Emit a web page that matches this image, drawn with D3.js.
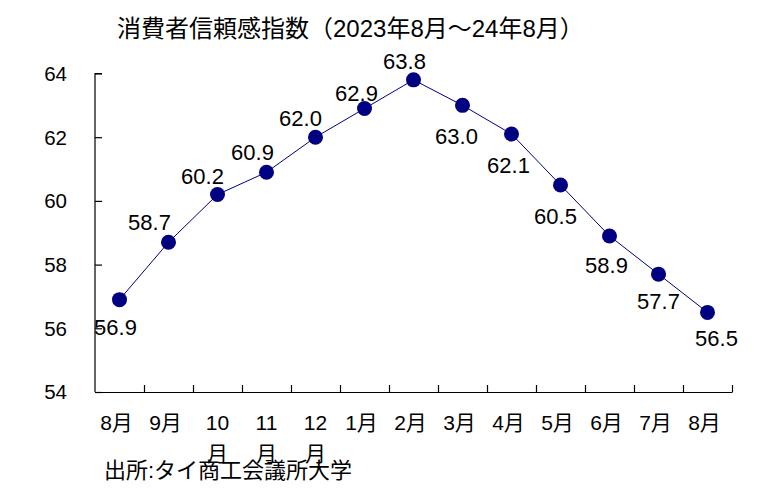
<!DOCTYPE html>
<html>
<head>
<meta charset="utf-8">
<script src="https://cdn.jsdelivr.net/npm/d3@7"></script>
<style>
  body { margin: 0; background: #fff; }
  text { font-family: "Liberation Sans", "Noto Sans CJK JP", sans-serif; fill: #000; }
</style>
</head>
<body>
<div id="chart"></div>
<script>
// data
const months = ["8月","9月","10月","11月","12月","1月","2月","3月","4月","5月","6月","7月","8月"]
const values = [56.9,58.7,60.2,60.9,62.0,62.9,63.8,63.0,62.1,60.5,58.9,57.7,56.5]
const yTicks = [54,56,58,60,62,64]
const title = "消費者信頼感指数（2023年8月～24年8月）"
const source = "出所:タイ商工会議所大学"

// where each data label sits relative to its dot [dx, dy]
const labelNudge = [[-4,35],[-19,-12],[-15,-11],[-14,-12],[-15,-11],[-8,-8],[-9,-11],
                    [-6,39],[-3,39],[-5,39],[-3,37],[0,35],[9,34]]

const width = 777, height = 503

const svg = d3.select("#chart")
  .append("svg")
    .attr("width", width)
    .attr("height", height)

const x = d3.scaleBand()
  .domain(d3.range(months.length))
  .range([95, 732])

const y = d3.scaleLinear()
  .domain([54, 64])
  .range([392, 73.5])

// title
svg.append("text")
  .attr("x", 117)
  .attr("y", 37)
  .style("font-size", "24px")
  .text(title)

// y axis, ticks point inward
const yAxis = svg.append("g")
  .attr("transform", "translate(95,0)")
  .call(d3.axisRight(y).tickValues(yTicks).tickSize(7).tickFormat(""))
yAxis.select(".domain").attr("d", `M7,${y(64)}H0V${y(54)}`)
yAxis.selectAll("line, path").attr("stroke", "#000").attr("stroke-width", 1.2)

svg.append("g")
  .selectAll("text")
  .data(yTicks)
  .join("text")
    .attr("x", 67)
    .attr("y", d => y(d))
    .attr("dy", "0.36em")
    .attr("text-anchor", "end")
    .style("font-size", "20.5px")
    .text(d => d)

// x axis, ticks up between the months
const xAxis = svg.append("g")
  .attr("transform", "translate(0,392)")
  .call(d3.axisTop(d3.scaleLinear().domain([0, months.length]).range([95, 732]))
    .ticks(months.length).tickSize(7).tickSizeOuter(0).tickFormat(""))
xAxis.selectAll(".tick").filter(d => d === 0).remove()
xAxis.selectAll("line, path").attr("stroke", "#000").attr("stroke-width", 1.2)

// month labels; long ones wrap the 月 onto a second line like excel did
const monthLabels = svg.append("g")
  .selectAll("text")
  .data(months)
  .join("text")
    .attr("y", 430)
    .attr("text-anchor", "middle")
    .style("font-size", "21px")

monthLabels.each(function(d, i) {
  const t = d3.select(this)
  const cx = x(i) + x.bandwidth() / 2
  if (d.length > 2) {
    t.append("tspan").attr("x", cx).text(d.slice(0, -1))
    t.append("tspan").attr("x", cx).attr("dy", 31).text(d.slice(-1))
  } else {
    t.append("tspan").attr("x", cx - 3).text(d)
  }
})

// line
const line = d3.line()
  .x((d, i) => x(i) + x.bandwidth() / 2)
  .y(d => y(d))

svg.append("path")
  .datum(values)
  .attr("d", line)
  .attr("fill", "none")
  .attr("stroke", "#000080")
  .attr("stroke-width", 1)

// dots
svg.append("g")
  .selectAll("circle")
  .data(values)
  .join("circle")
    .attr("cx", (d, i) => x(i) + x.bandwidth() / 2)
    .attr("cy", d => y(d))
    .attr("r", 7.5)
    .attr("fill", "#000080")

// value labels
svg.append("g")
  .selectAll("text")
  .data(values)
  .join("text")
    .attr("x", (d, i) => x(i) + x.bandwidth() / 2 + labelNudge[i][0])
    .attr("y", (d, i) => y(d) + labelNudge[i][1])
    .attr("text-anchor", "middle")
    .style("font-size", "22px")
    .text(d => d.toFixed(1))

// source note
svg.append("text")
  .attr("x", 104)
  .attr("y", 478)
  .style("font-size", "22px")
  .text(source)
</script>
</body>
</html>
